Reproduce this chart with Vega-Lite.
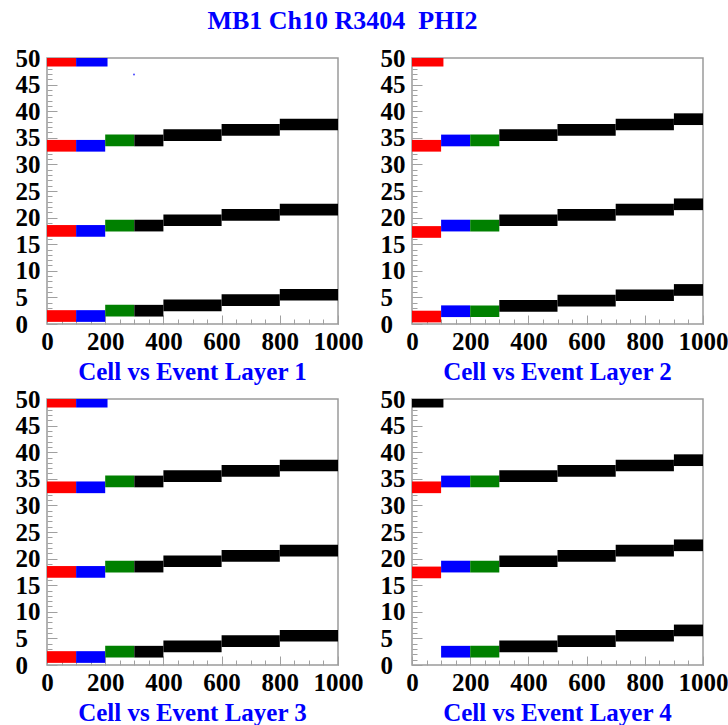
{
  "$schema": "https://vega.github.io/schema/vega-lite/v6.json",
  "background": "white",
  "padding": {"left": 14, "top": 8, "right": 0, "bottom": 0},
  "bounds": "flush",
  "spacing": {"row": 75, "column": 74},
  "columns": 2,
  "title": {
    "text": "MB1 Ch10 R3404 \u00a0PHI2",
    "orient": "top",
    "font": "Liberation Serif",
    "fontSize": 26,
    "fontWeight": "bold",
    "color": "#0000ff",
    "anchor": "middle",
    "dx": -29,
    "offset": 11
  },
  "datasets": {
    "bands": [
      {"layer": 1, "set": "a", "ev0": 0, "ev1": 100, "lo": 48.4, "hi": 50.6},
      {"layer": 1, "set": "b", "ev0": 100, "ev1": 208, "lo": 48.4, "hi": 50.6},
      {"layer": 1, "set": "a", "ev0": 0, "ev1": 100, "lo": 32.4, "hi": 34.6},
      {"layer": 1, "set": "b", "ev0": 100, "ev1": 200, "lo": 32.4, "hi": 34.6},
      {"layer": 1, "set": "c", "ev0": 200, "ev1": 300, "lo": 33.4, "hi": 35.6},
      {"layer": 1, "set": "d", "ev0": 300, "ev1": 400, "lo": 33.4, "hi": 35.6},
      {"layer": 1, "set": "d", "ev0": 400, "ev1": 600, "lo": 34.4, "hi": 36.6},
      {"layer": 1, "set": "d", "ev0": 600, "ev1": 800, "lo": 35.4, "hi": 37.6},
      {"layer": 1, "set": "d", "ev0": 800, "ev1": 1000, "lo": 36.4, "hi": 38.6},
      {"layer": 1, "set": "a", "ev0": 0, "ev1": 100, "lo": 16.4, "hi": 18.6},
      {"layer": 1, "set": "b", "ev0": 100, "ev1": 200, "lo": 16.4, "hi": 18.6},
      {"layer": 1, "set": "c", "ev0": 200, "ev1": 300, "lo": 17.4, "hi": 19.6},
      {"layer": 1, "set": "d", "ev0": 300, "ev1": 400, "lo": 17.4, "hi": 19.6},
      {"layer": 1, "set": "d", "ev0": 400, "ev1": 600, "lo": 18.4, "hi": 20.6},
      {"layer": 1, "set": "d", "ev0": 600, "ev1": 800, "lo": 19.4, "hi": 21.6},
      {"layer": 1, "set": "d", "ev0": 800, "ev1": 1000, "lo": 20.4, "hi": 22.6},
      {"layer": 1, "set": "a", "ev0": 0, "ev1": 100, "lo": 0.4, "hi": 2.6},
      {"layer": 1, "set": "b", "ev0": 100, "ev1": 200, "lo": 0.4, "hi": 2.6},
      {"layer": 1, "set": "c", "ev0": 200, "ev1": 300, "lo": 1.4, "hi": 3.6},
      {"layer": 1, "set": "d", "ev0": 300, "ev1": 400, "lo": 1.4, "hi": 3.6},
      {"layer": 1, "set": "d", "ev0": 400, "ev1": 600, "lo": 2.4, "hi": 4.6},
      {"layer": 1, "set": "d", "ev0": 600, "ev1": 800, "lo": 3.4, "hi": 5.6},
      {"layer": 1, "set": "d", "ev0": 800, "ev1": 1000, "lo": 4.4, "hi": 6.6},

      {"layer": 2, "set": "a", "ev0": 0, "ev1": 108, "lo": 48.4, "hi": 50.6},
      {"layer": 2, "set": "a", "ev0": 0, "ev1": 100, "lo": 32.4, "hi": 34.6},
      {"layer": 2, "set": "b", "ev0": 100, "ev1": 200, "lo": 33.4, "hi": 35.6},
      {"layer": 2, "set": "c", "ev0": 200, "ev1": 300, "lo": 33.4, "hi": 35.6},
      {"layer": 2, "set": "d", "ev0": 300, "ev1": 500, "lo": 34.4, "hi": 36.6},
      {"layer": 2, "set": "d", "ev0": 500, "ev1": 700, "lo": 35.4, "hi": 37.6},
      {"layer": 2, "set": "d", "ev0": 700, "ev1": 900, "lo": 36.4, "hi": 38.6},
      {"layer": 2, "set": "d", "ev0": 900, "ev1": 1000, "lo": 37.4, "hi": 39.6},
      {"layer": 2, "set": "a", "ev0": 0, "ev1": 100, "lo": 16.2, "hi": 18.4},
      {"layer": 2, "set": "b", "ev0": 100, "ev1": 200, "lo": 17.4, "hi": 19.6},
      {"layer": 2, "set": "c", "ev0": 200, "ev1": 300, "lo": 17.4, "hi": 19.6},
      {"layer": 2, "set": "d", "ev0": 300, "ev1": 500, "lo": 18.4, "hi": 20.6},
      {"layer": 2, "set": "d", "ev0": 500, "ev1": 700, "lo": 19.4, "hi": 21.6},
      {"layer": 2, "set": "d", "ev0": 700, "ev1": 900, "lo": 20.4, "hi": 22.6},
      {"layer": 2, "set": "d", "ev0": 900, "ev1": 1000, "lo": 21.4, "hi": 23.6},
      {"layer": 2, "set": "a", "ev0": 0, "ev1": 100, "lo": 0.3, "hi": 2.5},
      {"layer": 2, "set": "b", "ev0": 100, "ev1": 200, "lo": 1.3, "hi": 3.5},
      {"layer": 2, "set": "c", "ev0": 200, "ev1": 300, "lo": 1.3, "hi": 3.5},
      {"layer": 2, "set": "d", "ev0": 300, "ev1": 500, "lo": 2.3, "hi": 4.5},
      {"layer": 2, "set": "d", "ev0": 500, "ev1": 700, "lo": 3.3, "hi": 5.5},
      {"layer": 2, "set": "d", "ev0": 700, "ev1": 900, "lo": 4.3, "hi": 6.5},
      {"layer": 2, "set": "d", "ev0": 900, "ev1": 1000, "lo": 5.3, "hi": 7.5},

      {"layer": 3, "set": "a", "ev0": 0, "ev1": 100, "lo": 48.4, "hi": 50.6},
      {"layer": 3, "set": "b", "ev0": 100, "ev1": 208, "lo": 48.4, "hi": 50.6},
      {"layer": 3, "set": "a", "ev0": 0, "ev1": 100, "lo": 32.3, "hi": 34.5},
      {"layer": 3, "set": "b", "ev0": 100, "ev1": 200, "lo": 32.3, "hi": 34.5},
      {"layer": 3, "set": "c", "ev0": 200, "ev1": 300, "lo": 33.4, "hi": 35.6},
      {"layer": 3, "set": "d", "ev0": 300, "ev1": 400, "lo": 33.4, "hi": 35.6},
      {"layer": 3, "set": "d", "ev0": 400, "ev1": 600, "lo": 34.4, "hi": 36.6},
      {"layer": 3, "set": "d", "ev0": 600, "ev1": 800, "lo": 35.4, "hi": 37.6},
      {"layer": 3, "set": "d", "ev0": 800, "ev1": 1000, "lo": 36.4, "hi": 38.6},
      {"layer": 3, "set": "a", "ev0": 0, "ev1": 100, "lo": 16.4, "hi": 18.6},
      {"layer": 3, "set": "b", "ev0": 100, "ev1": 200, "lo": 16.4, "hi": 18.6},
      {"layer": 3, "set": "c", "ev0": 200, "ev1": 300, "lo": 17.4, "hi": 19.6},
      {"layer": 3, "set": "d", "ev0": 300, "ev1": 400, "lo": 17.4, "hi": 19.6},
      {"layer": 3, "set": "d", "ev0": 400, "ev1": 600, "lo": 18.4, "hi": 20.6},
      {"layer": 3, "set": "d", "ev0": 600, "ev1": 800, "lo": 19.4, "hi": 21.6},
      {"layer": 3, "set": "d", "ev0": 800, "ev1": 1000, "lo": 20.4, "hi": 22.6},
      {"layer": 3, "set": "a", "ev0": 0, "ev1": 100, "lo": 0.4, "hi": 2.6},
      {"layer": 3, "set": "b", "ev0": 100, "ev1": 200, "lo": 0.4, "hi": 2.6},
      {"layer": 3, "set": "c", "ev0": 200, "ev1": 300, "lo": 1.4, "hi": 3.6},
      {"layer": 3, "set": "d", "ev0": 300, "ev1": 400, "lo": 1.4, "hi": 3.6},
      {"layer": 3, "set": "d", "ev0": 400, "ev1": 600, "lo": 2.4, "hi": 4.6},
      {"layer": 3, "set": "d", "ev0": 600, "ev1": 800, "lo": 3.4, "hi": 5.6},
      {"layer": 3, "set": "d", "ev0": 800, "ev1": 1000, "lo": 4.4, "hi": 6.6},

      {"layer": 4, "set": "d", "ev0": 0, "ev1": 108, "lo": 48.4, "hi": 50.6},
      {"layer": 4, "set": "a", "ev0": 0, "ev1": 100, "lo": 32.3, "hi": 34.5},
      {"layer": 4, "set": "b", "ev0": 100, "ev1": 200, "lo": 33.4, "hi": 35.6},
      {"layer": 4, "set": "c", "ev0": 200, "ev1": 300, "lo": 33.4, "hi": 35.6},
      {"layer": 4, "set": "d", "ev0": 300, "ev1": 500, "lo": 34.4, "hi": 36.6},
      {"layer": 4, "set": "d", "ev0": 500, "ev1": 700, "lo": 35.4, "hi": 37.6},
      {"layer": 4, "set": "d", "ev0": 700, "ev1": 900, "lo": 36.4, "hi": 38.6},
      {"layer": 4, "set": "d", "ev0": 900, "ev1": 1000, "lo": 37.4, "hi": 39.6},
      {"layer": 4, "set": "a", "ev0": 0, "ev1": 100, "lo": 16.3, "hi": 18.5},
      {"layer": 4, "set": "b", "ev0": 100, "ev1": 200, "lo": 17.4, "hi": 19.6},
      {"layer": 4, "set": "c", "ev0": 200, "ev1": 300, "lo": 17.4, "hi": 19.6},
      {"layer": 4, "set": "d", "ev0": 300, "ev1": 500, "lo": 18.4, "hi": 20.6},
      {"layer": 4, "set": "d", "ev0": 500, "ev1": 700, "lo": 19.4, "hi": 21.6},
      {"layer": 4, "set": "d", "ev0": 700, "ev1": 900, "lo": 20.4, "hi": 22.6},
      {"layer": 4, "set": "d", "ev0": 900, "ev1": 1000, "lo": 21.4, "hi": 23.6},
      {"layer": 4, "set": "b", "ev0": 100, "ev1": 200, "lo": 1.4, "hi": 3.6},
      {"layer": 4, "set": "c", "ev0": 200, "ev1": 300, "lo": 1.4, "hi": 3.6},
      {"layer": 4, "set": "d", "ev0": 300, "ev1": 500, "lo": 2.4, "hi": 4.6},
      {"layer": 4, "set": "d", "ev0": 500, "ev1": 700, "lo": 3.4, "hi": 5.6},
      {"layer": 4, "set": "d", "ev0": 700, "ev1": 900, "lo": 4.4, "hi": 6.6},
      {"layer": 4, "set": "d", "ev0": 900, "ev1": 1000, "lo": 5.4, "hi": 7.6}
    ],
    "stray": [
      {"layer": 1, "set": "b", "ev": 299, "cell": 46.9}
    ]
  },
  "concat": [
    {
      "width": 291, "height": 266,
      "data": {"name": "bands"},
      "transform": [{"filter": "datum.layer === 1"}],
      "title": {"text": "Cell vs Event Layer 1"},
      "layer": [
        {
          "mark": {"type": "rect", "clip": true},
          "encoding": {
            "x": {"field": "ev0", "type": "quantitative", "scale": {"domain": [0, 1000], "nice": false}, "axis": {"orient": "bottom", "values": [0, 200, 400, 600, 800, 1000], "format": "d", "tickSize": -9, "labelPadding": 14}},
            "x2": {"field": "ev1"},
            "y": {"field": "lo", "type": "quantitative", "scale": {"domain": [0, 50], "nice": false}, "axis": {"orient": "left", "values": [0, 5, 10, 15, 20, 25, 30, 35, 40, 45, 50], "format": "d", "tickSize": -10, "labelPadding": 42, "labelAlign": "left"}},
            "y2": {"field": "hi"},
            "color": {"field": "set", "type": "nominal", "scale": {"domain": ["a", "b", "c", "d"], "range": ["#ff0000", "#0000ff", "#008000", "#000000"]}, "legend": null}
          }
        },
        {
          "mark": {"type": "rect", "opacity": 0},
          "encoding": {
            "x": {"field": "ev0", "type": "quantitative", "axis": {"orient": "bottom", "values": [0, 50, 100, 150, 200, 250, 300, 350, 400, 450, 500, 550, 600, 650, 700, 750, 800, 850, 900, 950, 1000], "tickSize": -5, "labels": false}},
            "x2": {"field": "ev1"},
            "y": {"field": "lo", "type": "quantitative", "axis": {"orient": "left", "values": [0,1,2,3,4,5,6,7,8,9,10,11,12,13,14,15,16,17,18,19,20,21,22,23,24,25,26,27,28,29,30,31,32,33,34,35,36,37,38,39,40,41,42,43,44,45,46,47,48,49,50], "tickSize": -5, "labels": false}},
            "y2": {"field": "hi"}
          }
        },
        {
          "data": {"name": "stray"},
          "mark": {"type": "point", "filled": true, "size": 4},
          "encoding": {
            "x": {"field": "ev", "type": "quantitative", "axis": null},
            "y": {"field": "cell", "type": "quantitative", "axis": null},
            "color": {"field": "set", "type": "nominal", "legend": null}
          }
        }
      ],
      "resolve": {"axis": {"x": "independent", "y": "independent"}}
    },
    {
      "width": 291, "height": 266,
      "data": {"name": "bands"},
      "transform": [{"filter": "datum.layer === 2"}],
      "title": {"text": "Cell vs Event Layer 2"},
      "layer": [
        {
          "mark": {"type": "rect", "clip": true},
          "encoding": {
            "x": {"field": "ev0", "type": "quantitative", "scale": {"domain": [0, 1000], "nice": false}, "axis": {"orient": "bottom", "values": [0, 200, 400, 600, 800, 1000], "format": "d", "tickSize": -9, "labelPadding": 14}},
            "x2": {"field": "ev1"},
            "y": {"field": "lo", "type": "quantitative", "scale": {"domain": [0, 50], "nice": false}, "axis": {"orient": "left", "values": [0, 5, 10, 15, 20, 25, 30, 35, 40, 45, 50], "format": "d", "tickSize": -10, "labelPadding": 42, "labelAlign": "left"}},
            "y2": {"field": "hi"},
            "color": {"field": "set", "type": "nominal", "scale": {"domain": ["a", "b", "c", "d"], "range": ["#ff0000", "#0000ff", "#008000", "#000000"]}, "legend": null}
          }
        },
        {
          "mark": {"type": "rect", "opacity": 0},
          "encoding": {
            "x": {"field": "ev0", "type": "quantitative", "axis": {"orient": "bottom", "values": [0, 50, 100, 150, 200, 250, 300, 350, 400, 450, 500, 550, 600, 650, 700, 750, 800, 850, 900, 950, 1000], "tickSize": -5, "labels": false}},
            "x2": {"field": "ev1"},
            "y": {"field": "lo", "type": "quantitative", "axis": {"orient": "left", "values": [0,1,2,3,4,5,6,7,8,9,10,11,12,13,14,15,16,17,18,19,20,21,22,23,24,25,26,27,28,29,30,31,32,33,34,35,36,37,38,39,40,41,42,43,44,45,46,47,48,49,50], "tickSize": -5, "labels": false}},
            "y2": {"field": "hi"}
          }
        }
      ],
      "resolve": {"axis": {"x": "independent", "y": "independent"}}
    },
    {
      "width": 291, "height": 266,
      "data": {"name": "bands"},
      "transform": [{"filter": "datum.layer === 3"}],
      "title": {"text": "Cell vs Event Layer 3"},
      "layer": [
        {
          "mark": {"type": "rect", "clip": true},
          "encoding": {
            "x": {"field": "ev0", "type": "quantitative", "scale": {"domain": [0, 1000], "nice": false}, "axis": {"orient": "bottom", "values": [0, 200, 400, 600, 800, 1000], "format": "d", "tickSize": -9, "labelPadding": 14}},
            "x2": {"field": "ev1"},
            "y": {"field": "lo", "type": "quantitative", "scale": {"domain": [0, 50], "nice": false}, "axis": {"orient": "left", "values": [0, 5, 10, 15, 20, 25, 30, 35, 40, 45, 50], "format": "d", "tickSize": -10, "labelPadding": 42, "labelAlign": "left"}},
            "y2": {"field": "hi"},
            "color": {"field": "set", "type": "nominal", "scale": {"domain": ["a", "b", "c", "d"], "range": ["#ff0000", "#0000ff", "#008000", "#000000"]}, "legend": null}
          }
        },
        {
          "mark": {"type": "rect", "opacity": 0},
          "encoding": {
            "x": {"field": "ev0", "type": "quantitative", "axis": {"orient": "bottom", "values": [0, 50, 100, 150, 200, 250, 300, 350, 400, 450, 500, 550, 600, 650, 700, 750, 800, 850, 900, 950, 1000], "tickSize": -5, "labels": false}},
            "x2": {"field": "ev1"},
            "y": {"field": "lo", "type": "quantitative", "axis": {"orient": "left", "values": [0,1,2,3,4,5,6,7,8,9,10,11,12,13,14,15,16,17,18,19,20,21,22,23,24,25,26,27,28,29,30,31,32,33,34,35,36,37,38,39,40,41,42,43,44,45,46,47,48,49,50], "tickSize": -5, "labels": false}},
            "y2": {"field": "hi"}
          }
        }
      ],
      "resolve": {"axis": {"x": "independent", "y": "independent"}}
    },
    {
      "width": 291, "height": 266,
      "data": {"name": "bands"},
      "transform": [{"filter": "datum.layer === 4"}],
      "title": {"text": "Cell vs Event Layer 4"},
      "layer": [
        {
          "mark": {"type": "rect", "clip": true},
          "encoding": {
            "x": {"field": "ev0", "type": "quantitative", "scale": {"domain": [0, 1000], "nice": false}, "axis": {"orient": "bottom", "values": [0, 200, 400, 600, 800, 1000], "format": "d", "tickSize": -9, "labelPadding": 14}},
            "x2": {"field": "ev1"},
            "y": {"field": "lo", "type": "quantitative", "scale": {"domain": [0, 50], "nice": false}, "axis": {"orient": "left", "values": [0, 5, 10, 15, 20, 25, 30, 35, 40, 45, 50], "format": "d", "tickSize": -10, "labelPadding": 42, "labelAlign": "left"}},
            "y2": {"field": "hi"},
            "color": {"field": "set", "type": "nominal", "scale": {"domain": ["a", "b", "c", "d"], "range": ["#ff0000", "#0000ff", "#008000", "#000000"]}, "legend": null}
          }
        },
        {
          "mark": {"type": "rect", "opacity": 0},
          "encoding": {
            "x": {"field": "ev0", "type": "quantitative", "axis": {"orient": "bottom", "values": [0, 50, 100, 150, 200, 250, 300, 350, 400, 450, 500, 550, 600, 650, 700, 750, 800, 850, 900, 950, 1000], "tickSize": -5, "labels": false}},
            "x2": {"field": "ev1"},
            "y": {"field": "lo", "type": "quantitative", "axis": {"orient": "left", "values": [0,1,2,3,4,5,6,7,8,9,10,11,12,13,14,15,16,17,18,19,20,21,22,23,24,25,26,27,28,29,30,31,32,33,34,35,36,37,38,39,40,41,42,43,44,45,46,47,48,49,50], "tickSize": -5, "labels": false}},
            "y2": {"field": "hi"}
          }
        }
      ],
      "resolve": {"axis": {"x": "independent", "y": "independent"}}
    }
  ],
  "config": {
    "view": {"stroke": "#9a9a9a", "strokeWidth": 1.5},
    "axis": {
      "domain": false,
      "grid": false,
      "title": null,
      "tickColor": "#a0a0a0",
      "tickWidth": 1,
      "labelFont": "Liberation Serif",
      "labelFontWeight": "bold",
      "labelFontSize": 25,
      "labelColor": "#000000",
      "labelOverlap": false,
      "labelFlush": false,
      "labelBound": false
    },
    "axisLeft": {"labelBaseline": "middle"},
    "title": {
      "font": "Liberation Serif",
      "fontSize": 25,
      "fontWeight": "bold",
      "color": "#0000ff",
      "orient": "bottom",
      "anchor": "middle",
      "offset": 6
    }
  }
}
